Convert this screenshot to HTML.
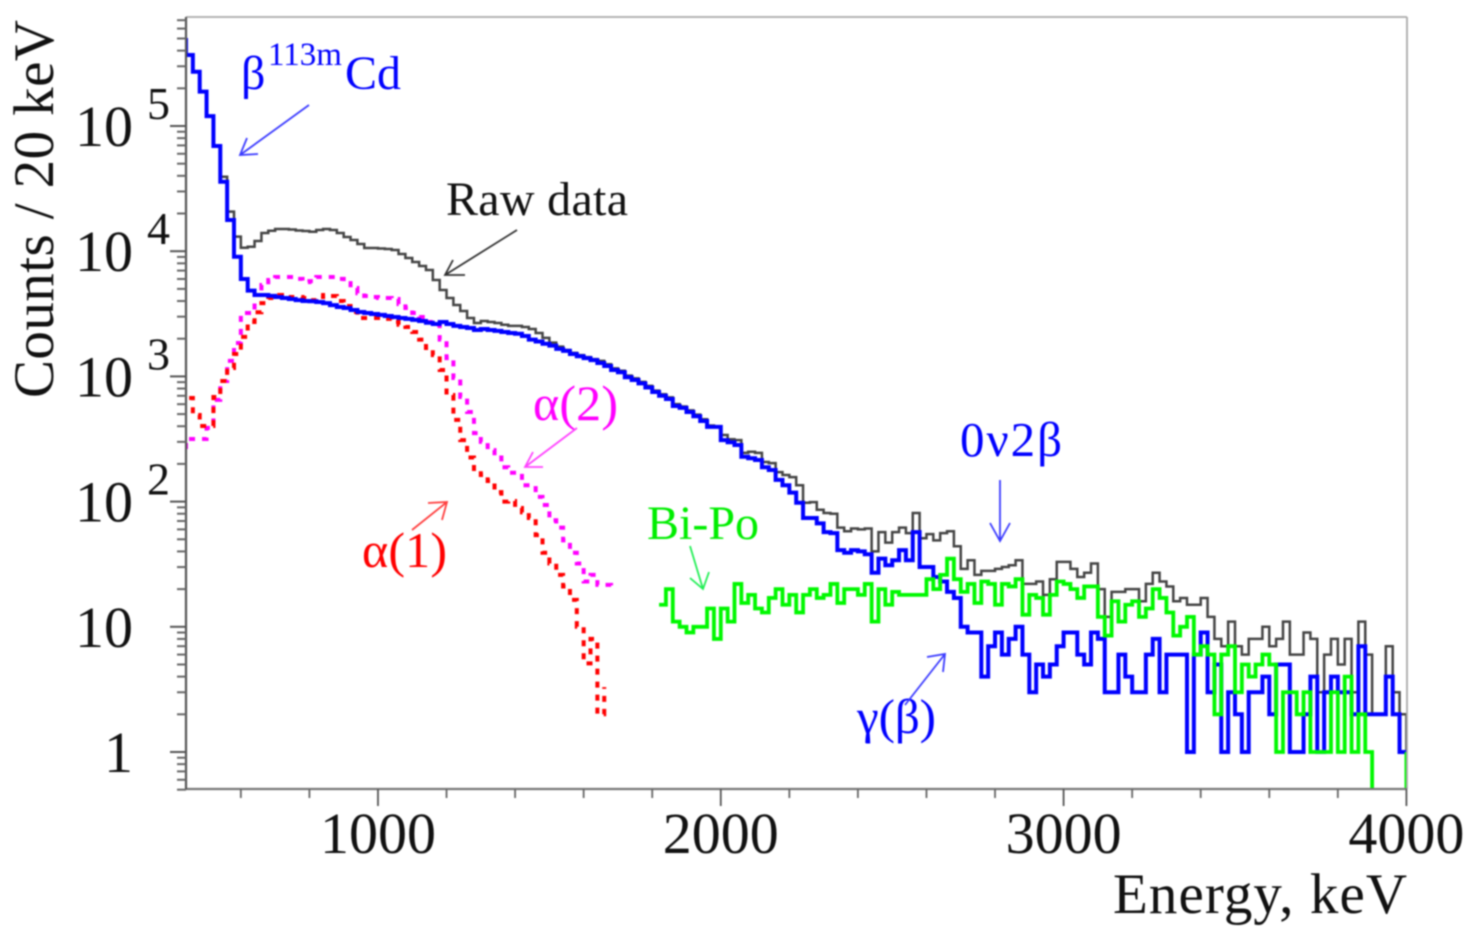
<!DOCTYPE html>
<html lang="en">
<head>
<meta charset="utf-8">
<title>Energy spectrum</title>
<style>
html,body{margin:0;padding:0;background:#fff;}
#chart{display:block;width:1480px;height:937px;filter:blur(0.9px);}
text{font-family:"Liberation Serif",serif;}
</style>
</head>
<body>
<svg id="chart" xmlns="http://www.w3.org/2000/svg" width="1480" height="937" viewBox="0 0 1480 937">
  <rect x="0" y="0" width="1480" height="937" fill="#fff"/>
  <defs><clipPath id="plotClip"><rect x="186" y="17" width="1221" height="772"/></clipPath></defs>
  <g id="series" clip-path="url(#plotClip)"></g>
  <g id="axes"></g>

  <text transform="translate(53,398) rotate(-90)" font-size="57" textLength="378" fill="#111">Counts / 20 keV</text>
  <text x="1113" y="913" font-size="57" textLength="294" fill="#111">Energy, keV</text>

  <g fill="#0000ff">
    <text x="241" y="89" font-size="48">β</text>
    <text x="268" y="65" font-size="33">113m</text>
    <text x="345" y="89" font-size="48">Cd</text>
  </g>
  <text x="446" y="215" font-size="48" textLength="182" fill="#111">Raw data</text>
  <text x="533" y="420" font-size="50" textLength="85" fill="#ff00ff">α(2)</text>
  <text x="362" y="567" font-size="50" textLength="85" fill="#ff0000">α(1)</text>
  <text x="647" y="539" font-size="48" fill="#00ee00">Bi-Po</text>
  <text x="960" y="456" font-size="49" textLength="102" fill="#0000ff">0ν2β</text>
  <text x="857" y="733" font-size="49" textLength="79" fill="#0000ff">γ(β)</text>

  <g fill="none" stroke-width="1.8">
    <path stroke="#3c3cff" d="M309 105L240 155M247 138L240 155L258 154"/>
    <path stroke="#333" d="M517 230L445 275M453 260L445 275L465 275"/>
    <path stroke="#ff44ff" d="M577 428L525 467M533 452L525 467L543 467"/>
    <path stroke="#ff4040" d="M412 530L447 502M428 503L447 502L442 520"/>
    <path stroke="#22ee55" d="M690 546L703 589M690 578L703 589L709 572"/>
    <path stroke="#3c3cff" d="M1000 480L1000 541M990 523L1000 541L1010 523"/>
    <path stroke="#3c3cff" d="M905 705L945 654M927 657L945 654L943 672"/>
  </g>

<script>
// Histogram definition (bin width in keV, first bin's low edge in keV)
const binWidth = 20;
const rawStart = 420;
const betaStart = 420;
const alpha2Start = 420;
const alpha1Start = 420;
const biPoStart = 1820;

// Counts per bin. The last value of each series is only the level of the closing vertical edge.
const rawCounts = [486000,369000,271000,188000,120000,69200,39350,20700,13060,10660,10860,
12060,13970,14580,15040,15040,14900,14620,14500,14310,14770,
15040,14770,13970,12970,12280,11410,10600,10600,10510,10420,
10220,9500,8830,8200,7620,7080,5890,4900,4230,3720,
3330,2930,2670,2770,2720,2670,2585,2530,2530,2480,
2390,2220,2030,1860,1730,1625,1540,1480,1425,1375,
1330,1250,1160,1110,1015,965,905,840,770,720,
680,600,575,535,495,455,405,400,340,315,
310,245,250,245,207,203,172,163,157,135,
98,99,86,81,80,62,58,61,60,61,
40,57,47,57,62,56,81,51,55,49,
56,58,44,29,34,26,28,28,29,30,
31,34,22,22,23,18,24,33,33,29,
25,27,32,20,12,19,19,20,20,16,
22,27,23,21,16,17,15,15,17,12,
8,7,11,7,6,8,8,10,7,8,
11,6,6,9,8,3,6,8,5,8,
3,11,6,2,2,7,3,2,1];

const betaCounts = [486000,369000,271000,188000,120000,69200,35900,17750,9040,6000,4840,
4470,4470,4400,4310,4230,4150,4070,4000,3980,3930,
3850,3710,3585,3520,3390,3270,3210,3150,3100,3040,
2980,2930,2880,2825,2770,2680,2620,2720,2620,2530,
2480,2435,2350,2390,2350,2310,2265,2220,2190,2100,
1965,1900,1825,1760,1660,1600,1510,1450,1400,1350,
1280,1210,1125,1080,985,935,880,815,750,700,
660,580,560,520,480,440,395,395,310,298,
283,228,222,215,188,179,149,135,118,98,
74,74,67,57,56,41,39,41,40,38,
27,35,31,34,41,34,57,30,30,25,
23,19,17,10,9,9,4,7,9,6,
8,10,6,3,5,4,5,7,9,9,
6,5,9,8,3,3,6,4,3,3,
6,8,3,6,6,6,1,6,9,3,
5,1,3,2,1,3,3,4,2,5,
5,1,1,2,4,1,3,4,3,3,
2,7,2,2,2,4,2,1,1];

const alpha2Counts = [235,316,316,316,388,650,918,1330,1850,3210,3210,
4470,5370,5890,6220,6220,6220,6010,5660,5770,6220,
6220,6220,6010,5560,5085,4620,4390,4310,4230,4230,
4150,3780,3520,3210,2980,2720,2585,1965,1400,970,
684,520,352,300,258,225,188,170,170,135,
135,109,94,71,62,49,39,32,23,26,
21.6,21.6,20];

const alpha1Counts = [710,672,492,402,402,684,918,1167,1510,2070,2720,
3250,3850,4230,4470,4390,4310,4310,4230,4070,4310,
4470,4390,4000,3650,3270,2930,2930,2930,2930,2880,
2720,2585,2480,2265,1965,1687,1480,1125,710,450,
310,225,175,163,146,119,100,101,89,82,
74,54,39,32,26,21,16.4,10,5.1,8,
2,3.3];

const biPoCounts = [15,20,11,10,9,10,10,14,8,14,11,
22,15.5,18,14,13,17,20,15,18,13,
18,20,17,18,22,15.5,20,20,18,22,
11,20,15,19,18,18,18,18,24,20,
26,35,24,19,22,15.5,23,22,15,22,
21,24,12.5,18,17,12.5,18,23,22,20,
17,21,21,12,8.5,16,11,15,16,12,
14,20,17,13,8.5,10,12,6,7,6,
2,6,7,3,5,4,5,6,5,1,
3,3,2,3,1,1,1,3,1,4,
1,2,1,0,0,0,0,0,1];

// Axis ticks and labels
const xMajorTicks = [1000,2000,3000,4000];
const xMinorTicks = [600,800,1200,1400,1600,1800,2200,2400,2600,2800,3200,3400,3600,3800];
const xTickLabels = ["1000","2000","3000","4000"];
const yDecades = [0,1,2,3,4,5];
const yBaseLabels = ["1","10","10","10","10","10"];
const yExponentLabels = ["","","2","3","4","5"];
const yMinorMantissas = [2,3,4,5,6,7,8,9];

// Axis functions
const plotLeft = 186, plotRight = 1407, plotTop = 17, plotBottom = 789;
const xMin = 440, xMax = 4000;
const yUnit = 752, yDecadePx = 125.2;
function xScale(e){ return plotLeft + (e - xMin) * (1220.4 / (xMax - xMin)); }
function yScale(c){ return yUnit - yDecadePx * Math.log10(Math.max(c, 0.3)); }

const NS = "http://www.w3.org/2000/svg";
const seriesLayer = document.getElementById("series");
const axesLayer = document.getElementById("axes");

function stepPath(start, counts){
  let d = "M" + xScale(start).toFixed(2) + " " + yScale(counts[0]).toFixed(2);
  for(let i = 0; i < counts.length; i++){
    if(i > 0) d += "V" + yScale(counts[i]).toFixed(2);
    if(i < counts.length - 1) d += "H" + xScale(start + (i + 1) * binWidth).toFixed(2);
  }
  return d;
}

function addSeries(name, start, counts, color, width, dash){
  const p = document.createElementNS(NS, "path");
  p.setAttribute("d", stepPath(start, counts));
  p.setAttribute("fill", "none");
  p.setAttribute("stroke", color);
  p.setAttribute("stroke-width", width);
  if(dash) p.setAttribute("stroke-dasharray", dash);
  
  
  seriesLayer.appendChild(p);
}

function addLine(name, x1, y1, x2, y2, color, width){
  const l = document.createElementNS(NS, "line");
  l.setAttribute("x1", x1);
  l.setAttribute("y1", y1);
  l.setAttribute("x2", x2);
  l.setAttribute("y2", y2);
  l.setAttribute("stroke", color);
  l.setAttribute("stroke-width", width);
  
  
  axesLayer.appendChild(l);
}

function addText(name, x, y, size, anchor, str){
  const t = document.createElementNS(NS, "text");
  t.setAttribute("x", x);
  t.setAttribute("y", y);
  t.setAttribute("font-size", size);
  t.setAttribute("text-anchor", anchor);
  t.setAttribute("fill", "#111");
  t.textContent = str;
  
  
  axesLayer.appendChild(t);
}

addSeries("raw-data-series", rawStart, rawCounts, "#444444", 2.5, null);
addSeries("alpha-2-series", alpha2Start, alpha2Counts, "#ff00ff", 4, "6 7");
addSeries("alpha-1-series", alpha1Start, alpha1Counts, "#ff0000", 4, "6 7");
addSeries("beta-series", betaStart, betaCounts, "#0000ff", 4, null);
addSeries("bi-po-series", biPoStart, biPoCounts, "#00f800", 3.8, null);

// Frame
addLine("plot-top-border", plotLeft, plotTop, plotRight, plotTop, "#aaaaaa", 1.8);
addLine("plot-right-border", plotRight, plotTop, plotRight, plotBottom, "#aaaaaa", 1.8);
addLine("x-axis-line", plotLeft, plotBottom, plotRight, plotBottom, "#777777", 2.2);
addLine("y-axis-line", plotLeft, plotTop, plotLeft, plotBottom, "#555555", 2.2);

// X ticks
xMajorTicks.forEach(function(v, i){
  addLine("x-major-tick", xScale(v), plotBottom, xScale(v), plotBottom + 17, "#555555", 1.8);
  addText("x-tick-label", xScale(v), 853, 58, "middle", xTickLabels[i]);
});
xMinorTicks.forEach(function(v){
  addLine("x-minor-tick", xScale(v), plotBottom, xScale(v), plotBottom + 9, "#666666", 1.8);
});

// Y ticks
yDecades.forEach(function(k, i){
  const c = Math.pow(10, k);
  addLine("y-major-tick", plotLeft - 16, yScale(c), plotLeft, yScale(c), "#555555", 2);
  addText("y-tick-label", 133, yScale(c) + 20, 58, "end", yBaseLabels[i]);
  if(yExponentLabels[i]) addText("y-tick-exponent", 147, yScale(c) - 7, 46, "start", yExponentLabels[i]);
});
[-1,0,1,2,3,4,5].forEach(function(k){
  yMinorMantissas.forEach(function(m){
    const c = m * Math.pow(10, k);
    const py = yScale(c);
    if(py < plotTop || py > plotBottom + 1) return;
    addLine("y-minor-tick", plotLeft - 9, py, plotLeft, py, "#666666", 2);
  });
});
</script>
</svg>
</body>
</html>
